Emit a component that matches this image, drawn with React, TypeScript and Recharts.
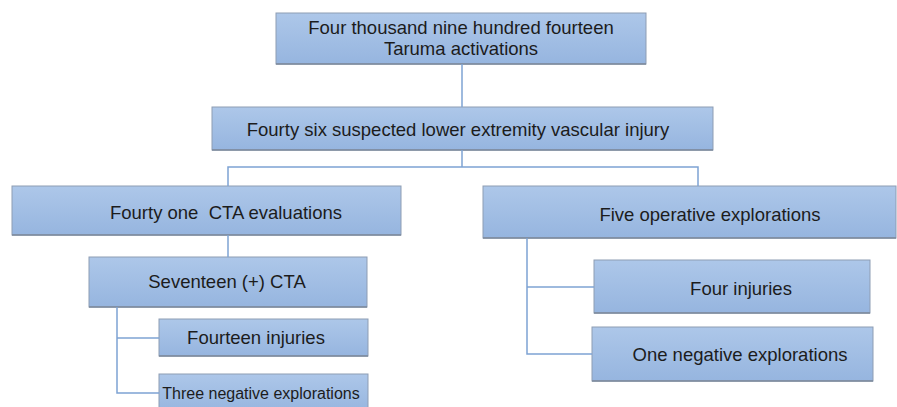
import { ComposedChart, Line, XAxis, YAxis, ReferenceArea } from 'recharts';

// flowchart laid out in a 897 x 407 coordinate space (y grows downward)
const W = 897;
const H = 407;

const nodeLabels = [
  ['Four thousand nine hundred fourteen', 'Taruma activations'],
  ['Fourty six suspected lower extremity vascular injury'],
  ['Fourty one  CTA evaluations'],
  ['Five operative explorations'],
  ['Seventeen (+) CTA'],
  ['Fourteen injuries'],
  ['Three negative explorations'],
  ['Four injuries'],
  ['One negative explorations'],
];

// box extents [x1, x2, y1, y2]
const nodeBoxes = [
  [276, 646, 13, 64],
  [212, 713, 107, 150],
  [12, 401, 186, 235],
  [483, 896, 186, 238],
  [89, 367, 257, 307],
  [159, 368, 319, 356],
  [159, 368, 374, 412],
  [594, 870, 260, 313],
  [592, 873, 327, 381],
];

// label anchor [x, y] for each box
const labelAnchors = [
  [461, 38],
  [458, 129],
  [226, 212],
  [710, 214],
  [227, 281],
  [256, 337],
  [261, 393],
  [741, 288],
  [740, 354],
];

const labelSizes = [18.5, 18.5, 18.5, 18.5, 18.5, 18.5, 16, 18.5, 18.5];

// connector polylines
const connectors = [
  [{ x: 462, y: 64 }, { x: 462, y: 107 }],
  [{ x: 462, y: 150 }, { x: 462, y: 167 }],
  [{ x: 228, y: 186 }, { x: 228, y: 167 }, { x: 698, y: 167 }, { x: 698, y: 186 }],
  [{ x: 228, y: 235 }, { x: 228, y: 257 }],
  [{ x: 117, y: 307 }, { x: 117, y: 393 }, { x: 159, y: 393 }],
  [{ x: 117, y: 338 }, { x: 159, y: 338 }],
  [{ x: 527, y: 238 }, { x: 527, y: 354 }, { x: 592, y: 354 }],
  [{ x: 527, y: 287 }, { x: 594, y: 287 }],
];

const LINE = '#7ea3d3';
const TEXT = '#1c1c1c';

function NodeShape(props: any) {
  const { x, y, width, height, idx } = props;
  const [x1, x2, y1, y2] = nodeBoxes[idx];
  const [tx, ty] = labelAnchors[idx];
  const cx = x + ((tx - x1) / (x2 - x1)) * width;
  const cy = y + ((ty - y1) / (y2 - y1)) * height;
  const lines = nodeLabels[idx];
  const fs = labelSizes[idx];
  const lh = 21;
  const gid = `node-grad-${idx}`;
  return (
    <g>
      <defs>
        <linearGradient id={gid} x1="0" y1="0" x2="0" y2="1">
          <stop offset="0%" stopColor="#adc7e9" />
          <stop offset="100%" stopColor="#96b5df" />
        </linearGradient>
      </defs>
      <rect x={x} y={y} width={width} height={height} fill={`url(#${gid})`} stroke="#8e9db3" strokeWidth={1} />
      <line x1={x} y1={y + height} x2={x + width} y2={y + height} stroke="#7b889a" strokeWidth={1.5} />
      {lines.map((t, i) => (
        <text
          key={i}
          x={cx}
          y={cy + (i - (lines.length - 1) / 2) * lh}
          textAnchor="middle"
          dominantBaseline="central"
          fontSize={fs}
          fill={TEXT}
          fontFamily='"Liberation Sans", Arial, sans-serif'
          style={{ whiteSpace: 'pre' }}
          xmlSpace="preserve"
        >
          {t}
        </text>
      ))}
    </g>
  );
}

export default function App() {
  return (
    <div style={{ position: 'absolute', left: 0, top: 0, width: W, height: H, background: '#fff' }}>
      <ComposedChart width={W} height={H} margin={{ top: 0, right: 0, bottom: 0, left: 0 }}>
        <XAxis type="number" dataKey="x" domain={[0, W]} hide allowDataOverflow />
        <YAxis type="number" dataKey="y" domain={[0, H]} reversed hide allowDataOverflow />
        {connectors.map((seg, i) => (
          <Line
            key={`c${i}`}
            data={seg}
            dataKey="y"
            type="linear"
            stroke={LINE}
            strokeWidth={1.5}
            dot={false}
            activeDot={false}
            isAnimationActive={false}
          />
        ))}
        {nodeBoxes.map(([x1, x2, y1, y2], i) => (
          <ReferenceArea
            key={`n${i}`}
            x1={x1}
            x2={x2}
            y1={y1}
            y2={y2}
            ifOverflow="visible"
            shape={(p: any) => <NodeShape {...p} idx={i} />}
          />
        ))}
      </ComposedChart>
    </div>
  );
}
